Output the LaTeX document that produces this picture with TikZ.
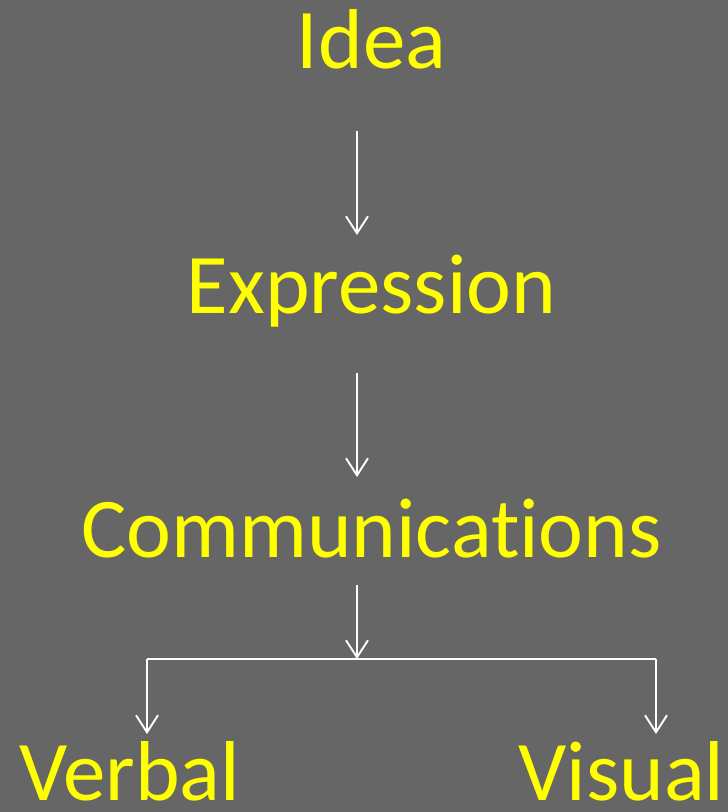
\documentclass[tikz,border=0pt]{standalone}
\usepackage{fontspec}
\setmainfont{Carlito}[Ligatures=NoCommon]
\usetikzlibrary{arrows.meta}
\definecolor{slidegray}{RGB}{102,102,102}
\definecolor{wordyellow}{RGB}{255,255,0}
\tikzset{
  word/.style={text=wordyellow, font=\fontsize{85}{85}\selectfont, anchor=base, inner sep=0pt},
  arr/.style={draw=white, line width=1.9pt, -{Straight Barb[length=17pt,width=22pt,line width=1.9pt]}},
}
\begin{document}
\begin{tikzpicture}[x=1pt, y=-1pt]
    \fill [slidegray] (0,0) rectangle (728,812);
    \useasboundingbox (0,0) rectangle (728,812);

    \node [word] (idea) at (371.5, 68) {Idea};
    \node [word] (expr) at (371.5, 313) {Expression};
    \node [word] (comm) at (371.5, 557) {Communications};
    \node [word] (verbal) at (129.5, 800) {Verbal};
    \node [word] (visual) at (621.5, 800) {Visual};

    \coordinate (a1) at (357, 131);
    \coordinate (b1) at (357, 235);
    \coordinate (a2) at (357, 373);
    \coordinate (b2) at (357, 477);
    \coordinate (a3) at (357, 585);
    \coordinate (fork) at (357, 659);
    \coordinate (left) at (147, 659);
    \coordinate (right) at (656, 659);
    \coordinate (b4) at (147, 734);
    \coordinate (b5) at (656, 734);

    \draw [arr] (a1) -- (b1);
    \draw [arr] (a2) -- (b2);
    \draw [arr] (a3) -- (fork);
    \draw [white, line width=1.9pt] (left) -- (right);
    \draw [arr] (left) -- (b4);
    \draw [arr] (right) -- (b5);

\end{tikzpicture}
\end{document}
